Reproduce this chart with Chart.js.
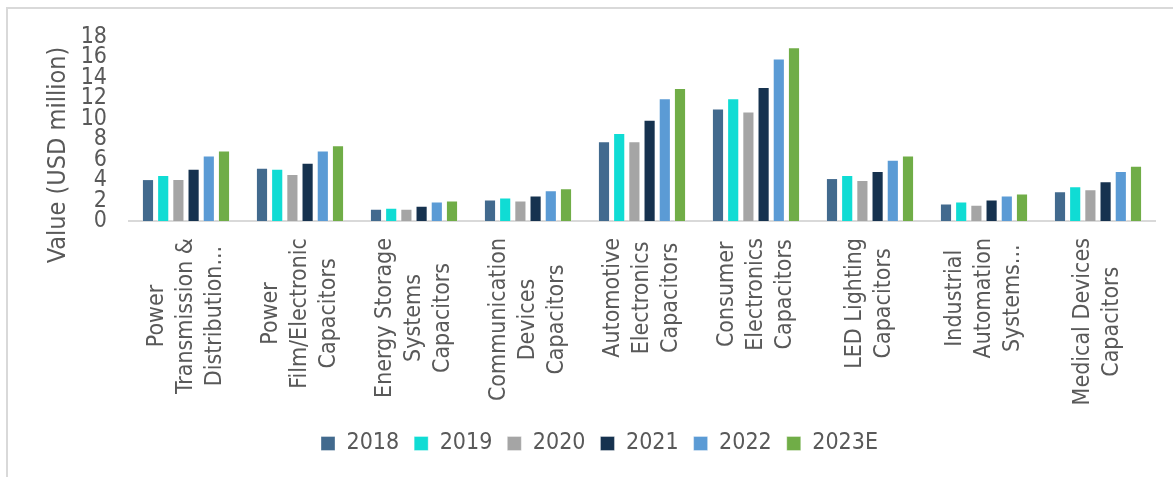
<!DOCTYPE html>
<html>
<head>
<meta charset="utf-8">
<script src="https://cdn.jsdelivr.net/npm/chart.js@4.4.1/dist/chart.umd.min.js"></script>
<style>
  html, body { margin: 0; padding: 0; background: #fff; }
  #wrap { width: 1173px; height: 477px; position: relative; }
</style>
</head>
<body>
<div id="wrap"><canvas id="capChart"></canvas></div>
<script>
// capacitor market value by application, USD million
var categories = [
  ['Power', 'Transmission &', 'Distribution...'],
  ['Power', 'Film/Electronic', 'Capacitors'],
  ['Energy Storage', 'Systems', 'Capacitors'],
  ['Communication', 'Devices', 'Capacitors'],
  ['Automotive', 'Electronics', 'Capacitors'],
  ['Consumer', 'Electronics', 'Capacitors'],
  ['LED Lighting', 'Capacitors'],
  ['Industrial', 'Automation', 'Systems...'],
  ['Medical Devices', 'Capacitors']
];
var years = ['2018', '2019', '2020', '2021', '2022', '2023E'];
var v2018 = [4.1, 5.2, 1.2, 2.1, 7.8, 11.0, 4.2, 1.7, 2.9];
var v2019 = [4.5, 5.1, 1.3, 2.3, 8.6, 12.0, 4.5, 1.9, 3.4];
var v2020 = [4.1, 4.6, 1.2, 2.0, 7.8, 10.7, 4.0, 1.6, 3.1];
var v2021 = [5.1, 5.7, 1.5, 2.5, 9.9, 13.1, 4.9, 2.1, 3.9];
var v2022 = [6.4, 6.9, 1.9, 3.0, 12.0, 15.9, 6.0, 2.5, 4.9];
var v2023 = [6.9, 7.4, 2.0, 3.2, 13.0, 17.0, 6.4, 2.7, 5.4];
var yTicks = [0, 2, 4, 6, 8, 10, 12, 14, 16, 18];

var colors = ['#426A8E', '#10DCD4', '#A5A5A5', '#16324F', '#5B9BD5', '#70AD47'];
var FONT = "Tahoma, 'DejaVu Sans Condensed', 'Liberation Sans Narrow', 'DejaVu Sans', sans-serif";
var TEXT = '#595959';

var series = [v2018, v2019, v2020, v2021, v2022, v2023];
var datasets = [];
for (var i = 0; i < years.length; i++) {
  datasets.push({
    label: years[i],
    data: series[i],
    backgroundColor: colors[i],
    borderColor: 'rgba(255,255,255,0.35)',
    borderWidth: 1,
    categoryPercentage: 0.8,
    barPercentage: 0.8
  });
}

// chart frame + rotated axis title + wrapped category labels
var decorations = {
  id: 'decorations',
  afterLayout: function (chart) {
    // legend sits centred on the whole frame, not the plot
    chart.legend.left += 17;
    chart.legend.right += 17;
  },
  beforeDraw: function (chart) {
    var ctx = chart.ctx;
    ctx.save();
    ctx.fillStyle = '#fff';
    ctx.fillRect(0, 0, chart.width, chart.height);
    ctx.strokeStyle = '#D9D9D9';
    ctx.lineWidth = 2;
    ctx.strokeRect(7, 8, chart.width + 20, chart.height + 20);
    ctx.restore();
  },
  afterDraw: function (chart) {
    var ctx = chart.ctx;
    var xs = chart.scales.x;
    ctx.save();
    ctx.fillStyle = TEXT;

    ctx.font = '25px ' + FONT;
    ctx.textAlign = 'center';
    ctx.textBaseline = 'middle';
    ctx.translate(58, 155);
    ctx.rotate(-Math.PI / 2);
    ctx.fillText('Value (USD million)', 0, 0);
    ctx.setTransform(1, 0, 0, 1, 0, 0);

    ctx.font = '23px ' + FONT;
    var lineGap = 29;
    var topY = xs.top + 17;
    categories.forEach(function (lines, idx) {
      var cx = xs.getPixelForValue(idx);
      var w = 0;
      lines.forEach(function (t) { w = Math.max(w, ctx.measureText(t).width); });
      lines.forEach(function (t, j) {
        var off = (j - (lines.length - 1) / 2) * lineGap;
        ctx.save();
        ctx.translate(cx + off, topY + w / 2);
        ctx.rotate(-Math.PI / 2);
        ctx.fillText(t, 0, 0);
        ctx.restore();
      });
    });
    ctx.restore();
  }
};

new Chart(document.getElementById('capChart'), {
  type: 'bar',
  data: {
    labels: categories.map(function (c) { return c.join(' '); }),
    datasets: datasets
  },
  plugins: [decorations],
  options: {
    responsive: true,
    maintainAspectRatio: false,
    animation: false,
    layout: { padding: { left: 10, right: 18, top: 37, bottom: 12 } },
    plugins: {
      tooltip: { enabled: false },
      legend: {
        position: 'bottom',
        labels: {
          color: TEXT,
          font: { family: FONT, size: 23 },
          boxWidth: 14,
          boxHeight: 14,
          padding: 15
        }
      }
    },
    scales: {
      x: {
        grid: { display: false, drawTicks: false },
        border: { display: true, color: '#D9D9D9', width: 2 },
        ticks: { display: false },
        afterFit: function (scale) { scale.height = 196; }
      },
      y: {
        min: 0,
        max: 18,
        afterBuildTicks: function (scale) {
          scale.ticks = yTicks.map(function (v) { return { value: v }; });
        },
        grid: { display: false, drawTicks: false },
        border: { display: false },
        ticks: {
          autoSkip: false,
          color: TEXT,
          padding: 22,
          font: { family: FONT, size: 23 }
        },
        afterFit: function (scale) { scale.width = 119; }
      }
    }
  }
});
</script>
</body>
</html>
